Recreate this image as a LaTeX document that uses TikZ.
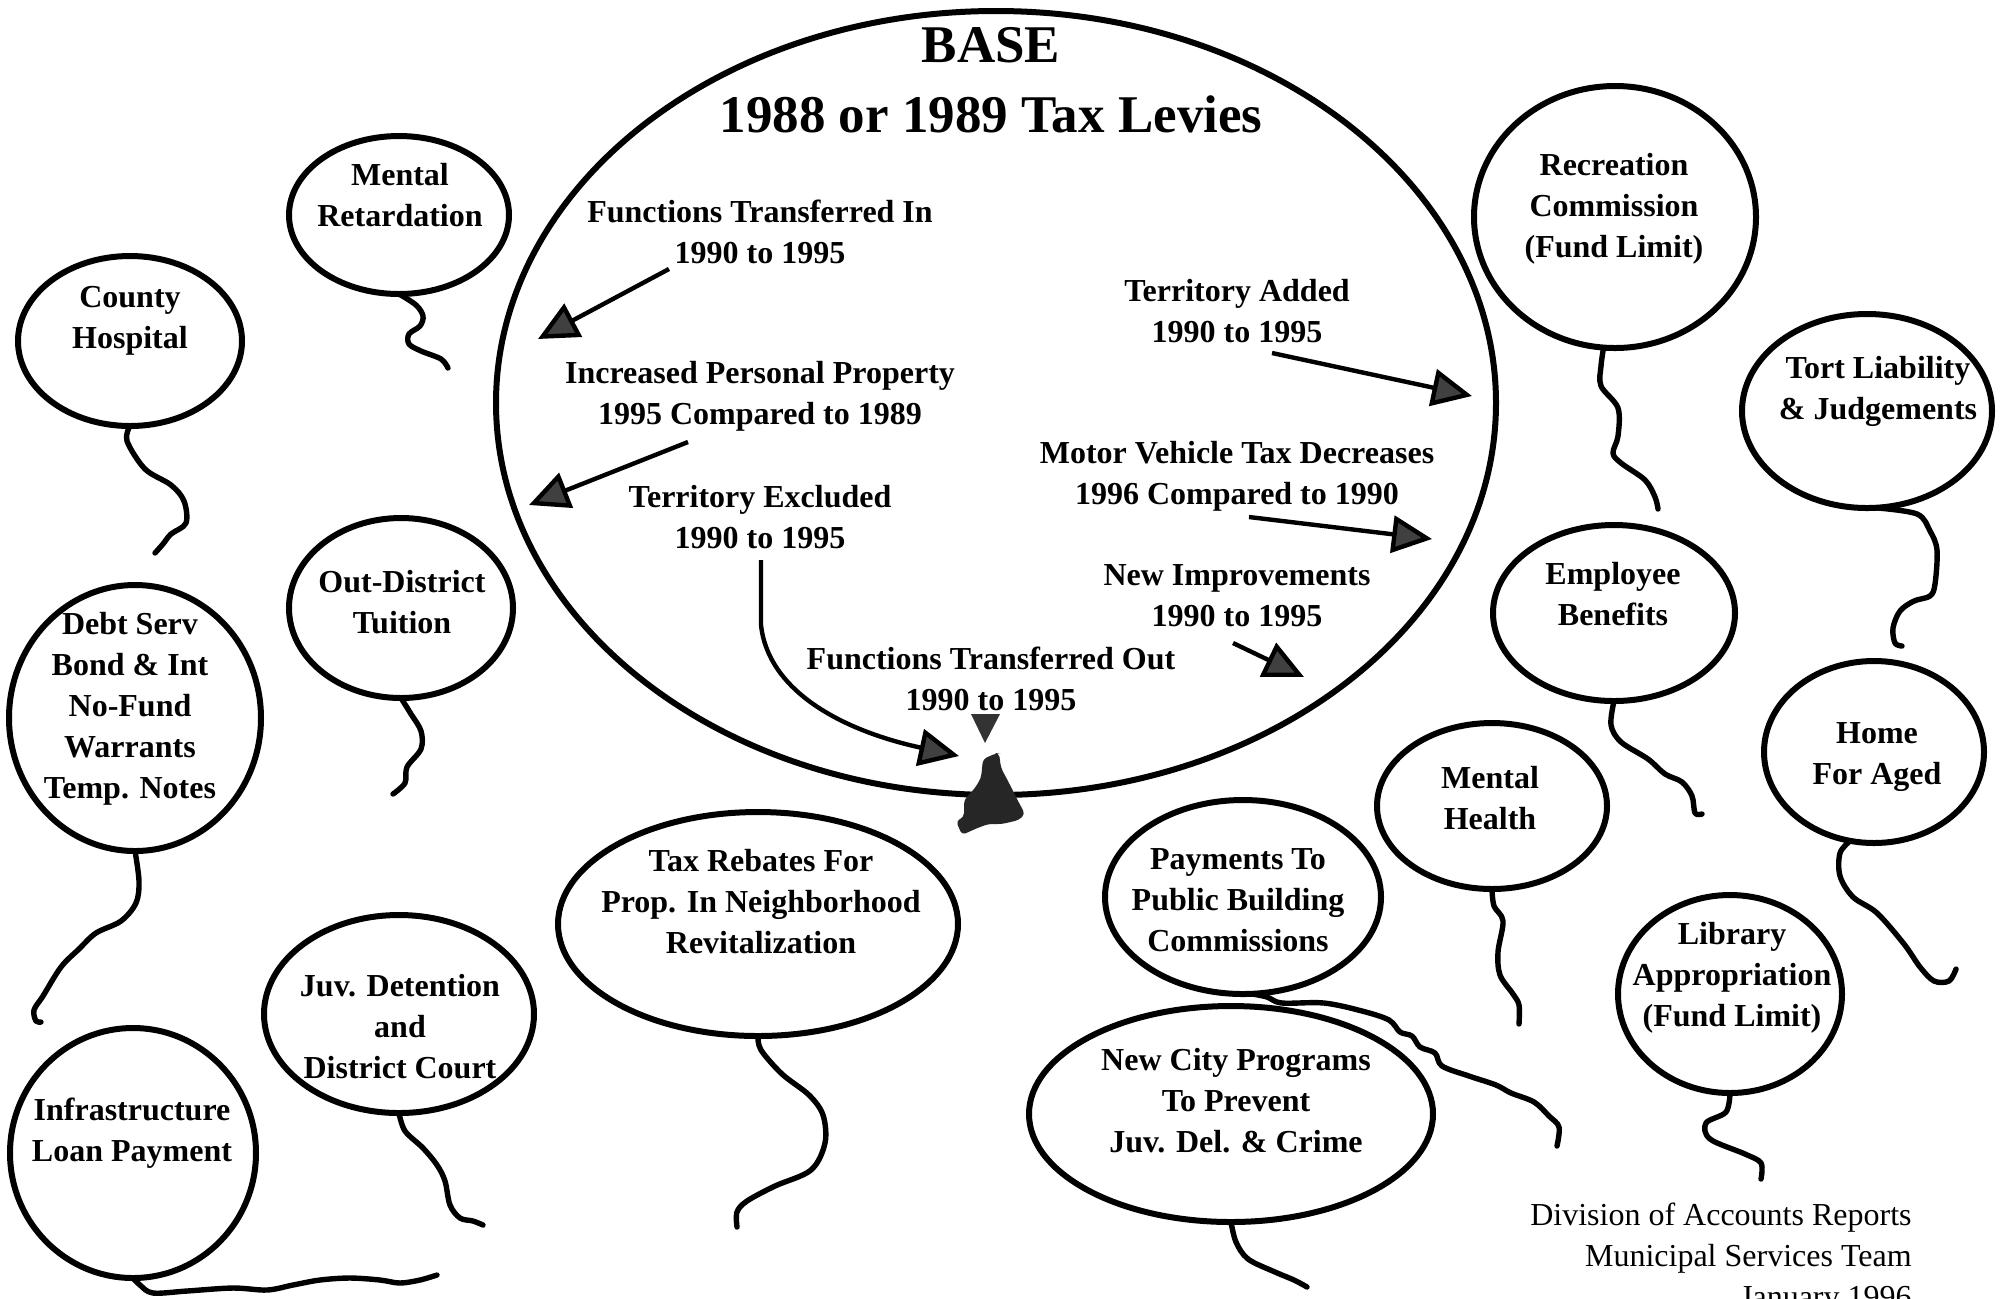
\documentclass[tikz,border=0pt]{standalone}
\usepackage{fontspec}
\setmainfont{Liberation Serif}
\usetikzlibrary{arrows.meta,shapes.geometric}
\begin{document}
\begin{tikzpicture}[x=0.5pt,y=-0.5pt,
  balloon/.style={draw, ellipse, line width=3pt, inner sep=0pt, outer sep=0pt},
  btext/.style={font=\bfseries\fontsize{16}{20.5}\selectfont, align=center, inner sep=0pt},
  ttext/.style={font=\bfseries\fontsize{26.5}{30}\selectfont, inner sep=0pt},
  ftext/.style={font=\fontsize{16}{20.5}\selectfont, align=right, inner sep=0pt},
  stringline/.style={line width=2.7pt, line cap=round, line join=round},
  arr/.style={line width=2.2pt, -{Triangle[length=20pt,width=18.5pt,fill=black!75]}},
]
\useasboundingbox (0,0) rectangle (2007,1298);
\clip (0,0) rectangle (2007,1298);
\fill[white] (0,0) rectangle (2007,1298);

% ---------- main ellipse ----------
\node[balloon, minimum width=500pt, minimum height=392pt] (main) at (996,403) {};
\node[ttext] (bt) at (991,45) {BASE};
\node[ttext] (lv) at (991,114) {1988 or 1989 Tax Levies};

\node[btext] (fti) at (760,232) {Functions Transferred In\\1990 to 1995};
\node[btext] (ipp) at (760,396) {Increased Personal Property\\1995 Compared to 1989};
\node[btext] (tex) at (760,517) {Territory Excluded\\1990 to 1995};
\node[btext] (fto) at (991,679) {Functions Transferred Out\\1990 to 1995};
\node[btext] (tad) at (1237,311) {Territory Added\\1990 to 1995};
\node[btext] (mvt) at (1237,476) {Motor Vehicle Tax Decreases\\1996 Compared to 1990};
\node[btext] (nim) at (1237,596) {New Improvements\\1990 to 1995};

\coordinate (a1s) at (669,269); \coordinate (a1e) at (538,339);
\coordinate (a2s) at (688,442); \coordinate (a2e) at (529,505);
\coordinate (a3s) at (761,560); \coordinate (a3m) at (761,625); \coordinate (a3e) at (959,756);
\coordinate (a4s) at (1272,353); \coordinate (a4e) at (1472,396);
\coordinate (a5s) at (1249,517); \coordinate (a5e) at (1432,539);
\coordinate (a6s) at (1233,643); \coordinate (a6e) at (1304,677);

\draw[arr] (a1s) -- (a1e);
\draw[arr] (a2s) -- (a2e);
\draw[arr] (a3s) -- (a3m) .. controls (768,690) and (840,730) .. (a3e);
\draw[arr] (a4s) -- (a4e);
\draw[arr] (a5s) -- (a5e);
\draw[arr] (a6s) -- (a6e);
\fill[black!80] (971,714) -- (1000,714) -- (985,743) -- cycle;

% knot
\fill[black!85, rounded corners=2pt] (997,753) -- (983,759) -- (981,778) -- (975,788) -- (964,800) -- (964,817) -- (956,821) -- (962,835) -- (975,829) -- (988,824) -- (1002,824) -- (1019,820) -- (1025,814) -- (1017,799) -- (1008,781) -- (1001,768) -- (999,753) -- cycle;

% ---------- balloons ----------
\node[balloon, minimum width=110pt, minimum height=79pt] (mr) at (399,215) {};
\node[btext] (mrt) at (400,195) {Mental\\Retardation};
\draw[stringline] plot[smooth, tension=0.55] coordinates {(mr.south) (416,305) (423,316) (420,326) (409,334) (409,344) (421,351) (441,359) (448,368)};

\node[balloon, minimum width=112pt, minimum height=85pt] (ch) at (130,341) {};
\node[btext] (cht) at (130,321) {County\\Hospital};
\draw[stringline] plot[smooth, tension=0.55] coordinates {(ch.south) (127,441) (145,469) (171,485) (184,501) (186,523) (171,534) (163,544) (155,553)};

\node[balloon, minimum width=112pt, minimum height=90pt] (od) at (401,608) {};
\node[btext] (odt) at (402,602) {Out-District\\Tuition};
\draw[stringline] plot[smooth, tension=0.55] coordinates {(od.south) (411,714) (421,731) (421,749) (407,767) (405,783) (393,794)};

\node[balloon, minimum width=126pt, minimum height=133pt] (ds) at (135,718) {};
\node[btext] (dst) at (130,709) {Debt Serv\\Bond \& Int\\No-Fund\\Warrants\\Temp. Notes};
\draw[stringline] plot[smooth, tension=0.55] coordinates {(ds.south) (139,881) (136,903) (121,921) (96,933) (79,949) (61,967) (43,996) (34,1010) (36,1021) (41,1022)};

\node[balloon, minimum width=135pt, minimum height=99pt] (jd) at (399,1014) {};
\node[btext] (jdt) at (400,1027) {Juv. Detention\\and\\District Court};
\draw[stringline] plot[smooth, tension=0.55] coordinates {(jd.south) (405,1131) (423,1148) (437,1165) (445,1181) (450,1205) (460,1218) (473,1221) (483,1225)};

\node[balloon, minimum width=123pt, minimum height=125pt] (il) at (133,1153) {};
\node[btext] (ilt) at (132,1133) {Infrastructure\\Loan Payment};
\draw[stringline] plot[smooth, tension=0.55] coordinates {(il.south) (140,1285) (153,1293) (187,1291) (233,1288) (267,1290) (293,1285) (320,1280) (350,1278) (380,1280) (400,1283) (420,1280) (437,1275)};

\node[balloon, minimum width=200pt, minimum height=112pt] (tr) at (758,924) {};
\node[btext] (trt) at (761,902) {Tax Rebates For\\Prop. In Neighborhood\\Revitalization};
\draw[stringline] plot[smooth, tension=0.55] coordinates {(tr.south) (761,1050) (782,1074) (809,1095) (823,1115) (825,1143) (811,1170) (775,1186) (747,1201) (737,1212) (737,1227)};

\node[balloon, minimum width=138pt, minimum height=97pt] (pb) at (1243,897) {};
\node[btext] (pbt) at (1238,900) {Payments To\\Public Building\\Commissions};
\draw[stringline] plot[smooth, tension=0.55] coordinates {(pb.-85) (1267,997) (1282,1003) (1324,1003) (1362,1011) (1389,1020) (1400,1032) (1412,1036) (1420,1047) (1435,1053) (1442,1066) (1469,1076) (1496,1085) (1511,1093) (1534,1102) (1549,1116) (1559,1127) (1557,1146)};

\node[balloon, minimum width=202pt, minimum height=108pt] (nc) at (1231,1114) {};
\node[btext] (nct) at (1236,1101) {New City Programs\\To Prevent\\Juv. Del. \& Crime};
\draw[stringline] plot[smooth, tension=0.55] coordinates {(nc.south) (1236,1242) (1248,1259) (1275,1272) (1294,1280) (1307,1287)};

\node[balloon, minimum width=115pt, minimum height=83pt] (mh) at (1492,806) {};
\node[btext] (mht) at (1490,798) {Mental\\Health};
\draw[stringline] plot[smooth, tension=0.55] coordinates {(mh.south) (1494,906) (1503,921) (1498,952) (1500,975) (1513,994) (1519,1005) (1519,1024)};

\node[balloon, minimum width=112pt, minimum height=99pt] (la) at (1730,994) {};
\node[btext] (lat) at (1732,978) {Library\\Appropriation\\(Fund Limit)};
\draw[stringline] plot[smooth, tension=0.55] coordinates {(la.south) (1726,1112) (1706,1123) (1710,1139) (1745,1154) (1761,1163) (1761,1179)};

\node[balloon, minimum width=110pt, minimum height=91pt] (ha) at (1874,752) {};
\node[btext] (hat) at (1877,757) {Home\\For Aged};
\draw[stringline] plot[smooth, tension=0.55] coordinates {(ha.-105) (1840,853) (1840,876) (1853,897) (1877,913) (1904,944) (1920,967) (1934,981) (1949,981) (1956,969)};

\node[balloon, minimum width=121pt, minimum height=88pt] (eb) at (1614,613) {};
\node[btext] (ebt) at (1613,594) {Employee\\Benefits};
\draw[stringline] plot[smooth, tension=0.55] coordinates {(eb.south) (1611,725) (1621,742) (1648,759) (1665,774) (1682,782) (1692,796) (1695,813) (1702,814)};

\node[balloon, minimum width=125pt, minimum height=97pt] (tl) at (1867,411) {};
\node[btext] (tlt) at (1878,391) {Tort Liability\\\& Judgements};
\draw[stringline] plot[smooth, tension=0.55] coordinates {(tl.-85) (1917,514) (1930,531) (1937,550) (1935,584) (1930,596) (1914,601) (1900,611) (1893,628) (1895,643) (1902,646)};

\node[balloon, minimum width=141pt, minimum height=131pt] (rc) at (1615,217) {};
\node[btext] (rct) at (1614,209) {Recreation\\Commission\\(Fund Limit)};
\draw[stringline] plot[smooth, tension=0.55] coordinates {(rc.-95) (1601,366) (1601,386) (1618,408) (1618,436) (1613,453) (1621,463) (1645,480) (1655,497) (1658,509)};

% ---------- footer ----------
\node[ftext, anchor=east] (ft) at (1912,1259) {Division of Accounts Reports\\Municipal Services Team\\January 1996};
\end{tikzpicture}
\end{document}
